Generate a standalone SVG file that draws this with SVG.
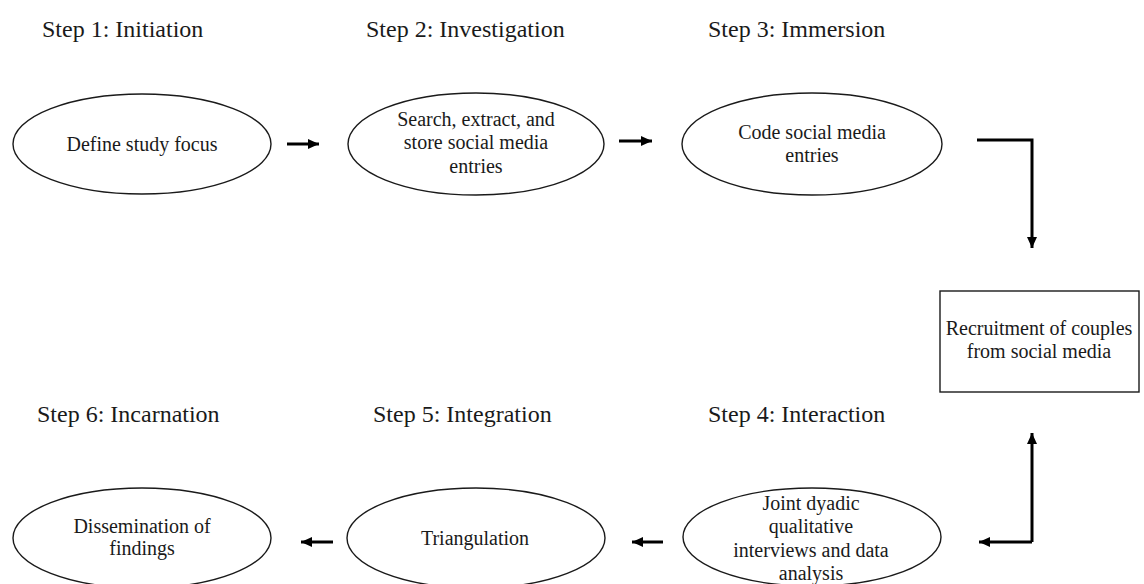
<svg xmlns="http://www.w3.org/2000/svg" width="1144" height="584" viewBox="0 0 1144 584">
<style>
.step{font-family:'Liberation Serif',Tinos,'Times New Roman',Times,'Noto Serif','DejaVu Serif',serif;font-size:24px;fill:#1a1a1a}
.t{font-family:'Liberation Serif',Tinos,'Times New Roman',Times,'Noto Serif','DejaVu Serif',serif;font-size:20px;fill:#1a1a1a;text-anchor:middle}
.shape{fill:#fff;stroke:#1a1a1a;stroke-width:1.4}
.conn{fill:none;stroke:#000;stroke-width:3;marker-end:url(#ah)}
</style>
<defs>
<marker id="ah" markerUnits="userSpaceOnUse" markerWidth="12" markerHeight="11" refX="11" refY="5.5" orient="auto">
<path d="M0,0.5 L11,5.5 L0,10.5 z" fill="#000"/>
</marker>
</defs>
<rect width="1144" height="584" fill="#fff"/>
<g id="labels">
<text class="step" x="42" y="37">Step 1: Initiation</text>
<text class="step" x="366" y="37">Step 2: Investigation</text>
<text class="step" x="708" y="37">Step 3: Immersion</text>
<text class="step" x="37" y="422">Step 6: Incarnation</text>
<text class="step" x="373" y="422">Step 5: Integration</text>
<text class="step" x="708" y="422">Step 4: Interaction</text>
</g>
<g id="node-define">
<ellipse class="shape" cx="142" cy="144" rx="129" ry="50"/>
<text class="t" x="142" y="151">Define study focus</text>
</g>
<g id="node-search">
<ellipse class="shape" cx="476" cy="144" rx="128" ry="51"/>
<text class="t" x="476" y="126">Search, extract, and</text>
<text class="t" x="476" y="149">store social media</text>
<text class="t" x="476" y="173">entries</text>
</g>
<g id="node-code">
<ellipse class="shape" cx="812" cy="144" rx="130" ry="51"/>
<text class="t" x="812" y="139">Code social media</text>
<text class="t" x="812" y="162">entries</text>
</g>
<g id="node-recruit">
<rect class="shape" x="940" y="291" width="199" height="101"/>
<text class="t" x="1039" y="335">Recruitment of couples</text>
<text class="t" x="1039" y="358">from social media</text>
</g>
<g id="node-joint">
<ellipse class="shape" cx="812" cy="537" rx="129" ry="49"/>
<text class="t" x="811" y="510">Joint dyadic</text>
<text class="t" x="811" y="533">qualitative</text>
<text class="t" x="811" y="557">interviews and data</text>
<text class="t" x="811" y="580">analysis</text>
</g>
<g id="node-triangulation">
<ellipse class="shape" cx="476" cy="538" rx="129" ry="50"/>
<text class="t" x="475" y="545">Triangulation</text>
</g>
<g id="node-dissemination">
<ellipse class="shape" cx="142" cy="538" rx="129" ry="50"/>
<text class="t" x="142" y="533">Dissemination of</text>
<text class="t" x="142" y="555">findings</text>
</g>
<g id="connectors">
<path class="conn" d="M287,144 L319,144"/>
<path class="conn" d="M619,141 L652,141"/>
<path class="conn" d="M977,140 L1032,140 L1032,248"/>
<path class="conn" d="M1032,542 L1032,433"/>
<path class="conn" d="M1032,542 L979,542"/>
<path class="conn" d="M663,542 L632,542"/>
<path class="conn" d="M333,542 L301,542"/>
</g>
</svg>
